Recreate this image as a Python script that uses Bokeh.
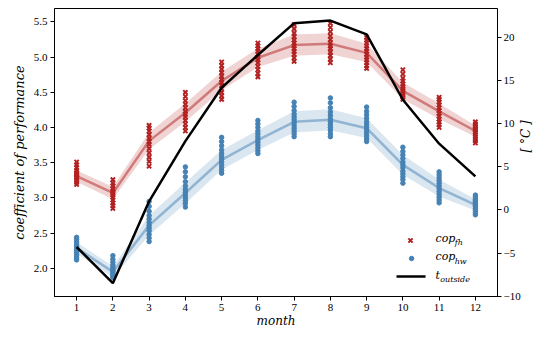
import math
from bokeh.plotting import figure
from bokeh.models import Range1d, LinearAxis, FixedTicker
from bokeh.core.properties import value
from bokeh.embed import file_html
from bokeh.resources import INLINE

months = [1, 2, 3, 4, 5, 6, 7, 8, 9, 10, 11, 12]

cop_fh_samples = [
    [3.19, 3.22, 3.25, 3.28, 3.30, 3.32, 3.34, 3.36, 3.39, 3.43, 3.47, 3.51],
    [2.85, 2.89, 2.93, 2.97, 3.01, 3.04, 3.07, 3.10, 3.13, 3.17, 3.21, 3.26],
    [3.45, 3.52, 3.58, 3.64, 3.70, 3.76, 3.80, 3.85, 3.90, 3.95, 3.99, 4.03],
    [3.95, 4.00, 4.05, 4.10, 4.15, 4.19, 4.23, 4.28, 4.33, 4.38, 4.44, 4.50],
    [4.40, 4.45, 4.50, 4.55, 4.60, 4.64, 4.68, 4.73, 4.78, 4.83, 4.88, 4.93],
    [4.72, 4.77, 4.82, 4.87, 4.92, 4.96, 5.00, 5.04, 5.08, 5.12, 5.16, 5.20],
    [4.94, 4.99, 5.04, 5.08, 5.12, 5.16, 5.20, 5.24, 5.29, 5.34, 5.40, 5.46],
    [4.92, 4.97, 5.02, 5.07, 5.12, 5.16, 5.20, 5.25, 5.30, 5.36, 5.42, 5.48],
    [4.84, 4.88, 4.92, 4.96, 5.00, 5.04, 5.08, 5.12, 5.16, 5.20, 5.24, 5.28],
    [4.40, 4.43, 4.46, 4.49, 4.52, 4.55, 4.58, 4.62, 4.66, 4.70, 4.76, 4.82],
    [4.00, 4.04, 4.08, 4.12, 4.16, 4.20, 4.24, 4.28, 4.32, 4.36, 4.40, 4.43],
    [3.78, 3.81, 3.84, 3.87, 3.90, 3.93, 3.96, 3.98, 4.00, 4.02, 4.05, 4.08],
]

cop_hw_samples = [
    [2.12, 2.15, 2.18, 2.21, 2.24, 2.27, 2.30, 2.32, 2.35, 2.38, 2.41, 2.44],
    [1.87, 1.89, 1.91, 1.93, 1.95, 1.97, 1.99, 2.02, 2.05, 2.09, 2.13, 2.18],
    [2.38, 2.43, 2.48, 2.53, 2.57, 2.61, 2.65, 2.70, 2.75, 2.81, 2.88, 2.95],
    [2.87, 2.92, 2.96, 3.00, 3.04, 3.08, 3.12, 3.17, 3.23, 3.30, 3.37, 3.44],
    [3.35, 3.39, 3.43, 3.47, 3.51, 3.55, 3.59, 3.63, 3.68, 3.74, 3.80, 3.86],
    [3.63, 3.67, 3.71, 3.75, 3.79, 3.83, 3.87, 3.91, 3.95, 4.00, 4.05, 4.10],
    [3.87, 3.91, 3.95, 3.99, 4.03, 4.07, 4.11, 4.15, 4.19, 4.24, 4.30, 4.36],
    [3.87, 3.91, 3.96, 4.00, 4.04, 4.08, 4.12, 4.17, 4.22, 4.28, 4.35, 4.42],
    [3.80, 3.84, 3.88, 3.92, 3.96, 4.00, 4.04, 4.08, 4.13, 4.18, 4.23, 4.29],
    [3.21, 3.26, 3.30, 3.34, 3.38, 3.43, 3.47, 3.51, 3.56, 3.61, 3.66, 3.72],
    [2.93, 2.97, 3.01, 3.05, 3.09, 3.13, 3.17, 3.21, 3.25, 3.29, 3.33, 3.37],
    [2.76, 2.79, 2.82, 2.85, 2.88, 2.90, 2.92, 2.94, 2.96, 2.98, 3.01, 3.04],
]

cop_fh_mean = [3.31, 3.07, 3.81, 4.21, 4.66, 4.99, 5.17, 5.19, 5.06, 4.52, 4.23, 3.95]
cop_fh_lo = [3.23, 2.98, 3.69, 4.08, 4.53, 4.86, 5.02, 5.04, 4.93, 4.40, 4.12, 3.87]
cop_fh_hi = [3.39, 3.16, 3.93, 4.34, 4.79, 5.12, 5.32, 5.34, 5.19, 4.64, 4.34, 4.03]

cop_hw_mean = [2.29, 1.95, 2.61, 3.07, 3.54, 3.82, 4.08, 4.11, 3.99, 3.47, 3.14, 2.90]
cop_hw_lo = [2.21, 1.87, 2.47, 2.92, 3.40, 3.68, 3.93, 3.96, 3.85, 3.33, 3.02, 2.82]
cop_hw_hi = [2.37, 2.03, 2.75, 3.22, 3.68, 3.96, 4.23, 4.26, 4.13, 3.61, 3.26, 2.98]

t_outside = [-4.3, -8.5, 1.0, 8.0, 14.2, 18.0, 21.7, 22.0, 20.4, 12.8, 7.7, 3.9]

left_ticks = [2.0, 2.5, 3.0, 3.5, 4.0, 4.5, 5.0, 5.5]
right_ticks = [-10, -5, 0, 5, 10, 15, 20]

RED = "#b22222"
BLUE = "#4682b4"
SERIF = "Liberation Serif"
MATH = "DejaVu Serif"

p = figure(
    frame_width=443, frame_height=288,
    x_range=Range1d(0.39, 12.61), y_range=Range1d(1.60, 5.69),
    output_backend="svg", toolbar_location=None,
    min_border_left=54, min_border_right=38, min_border_top=8, min_border_bottom=36,
)
p.extra_y_ranges = {"temp": Range1d(-10.05, 23.4)}
p.grid.visible = False
p.outline_line_color = "black"
p.outline_line_width = 1
p.outline_line_alpha = 1

# bands and mean lines
p.varea(x=months, y1=cop_fh_lo, y2=cop_fh_hi, fill_color=RED, fill_alpha=0.2)
p.varea(x=months, y1=cop_hw_lo, y2=cop_hw_hi, fill_color=BLUE, fill_alpha=0.2)
p.line(months, cop_fh_mean, line_color=RED, line_alpha=0.5, line_width=2.5)
p.line(months, cop_hw_mean, line_color=BLUE, line_alpha=0.5, line_width=2.5)

# scatter of samples
fx, fy, hx, hy = [], [], [], []
for m, vals in zip(months, cop_fh_samples):
    fx += [m] * len(vals)
    fy += vals
for m, vals in zip(months, cop_hw_samples):
    hx += [m] * len(vals)
    hy += vals
p.scatter(fx, fy, marker="x", size=6, line_width=2, line_color=RED)
p.scatter(hx, hy, marker="circle", size=4.5, fill_color=BLUE, line_color=BLUE)

# outside temperature
p.line(months, t_outside, line_color="black", line_width=2.5, y_range_name="temp")

# axes
p.xaxis.ticker = FixedTicker(ticks=months)
p.yaxis.ticker = FixedTicker(ticks=left_ticks)
p.yaxis.major_label_overrides = {v: f"{v:.1f}" for v in left_ticks}
p.xaxis.axis_label = "month"
p.yaxis.axis_label = "coefficient of performance"

rax = LinearAxis(y_range_name="temp", ticker=FixedTicker(ticks=right_ticks),
                 axis_label="[ \u00b0C ]")
rax.major_label_overrides = {v: (f"\u2212{abs(v)}" if v < 0 else str(v)) for v in right_ticks}
p.add_layout(rax, "right")

for ax in [p.xaxis[0], p.yaxis[0], rax]:
    ax.minor_tick_line_color = None
    ax.major_tick_in = 0
    ax.major_tick_out = 4
    ax.major_tick_line_color = "black"
    ax.axis_line_color = "black"
    ax.major_label_text_font = SERIF
    ax.major_label_text_font_size = "11px"
    ax.major_label_text_color = "black"
    ax.major_label_standoff = 3
    ax.axis_label_text_font = MATH
    ax.axis_label_text_font_style = "italic"
    ax.axis_label_text_font_size = "13px"
    ax.axis_label_text_color = "black"
    ax.axis_label_standoff = 4
p.xaxis.axis_label_standoff = 0
p.xaxis.axis_label_text_font_size = "12px"
rax.axis_label_standoff = 2
rax.major_label_standoff = 2
rax.axis_label_text_font_size = "12px"
rax.axis_label_orientation = math.pi / 2

# legend (manual, to get subscripts)
p.scatter([10.21], [2.395], marker="x", size=6, line_width=2, line_color=RED)
p.scatter([10.24], [2.14], marker="circle", size=4.5, fill_color=BLUE, line_color=BLUE)
p.line([9.824, 10.625], [1.884, 1.884], line_color="black", line_width=2.5)
p.text(x=[10.90, 10.90, 10.90], y=[2.424, 2.168, 1.905], text=["cop", "cop", "t"],
       text_font=value(MATH), text_font_style="italic", text_font_size="11px",
       text_baseline="middle", text_color="black")
p.text(x=[11.43, 11.43, 11.03], y=[2.36, 2.104, 1.845], text=["fh", "hw", "outside"],
       text_font=value(MATH), text_font_style="italic", text_font_size="8px",
       text_baseline="middle", text_color="black")

open("out.html", "w").write(file_html(p, INLINE))
